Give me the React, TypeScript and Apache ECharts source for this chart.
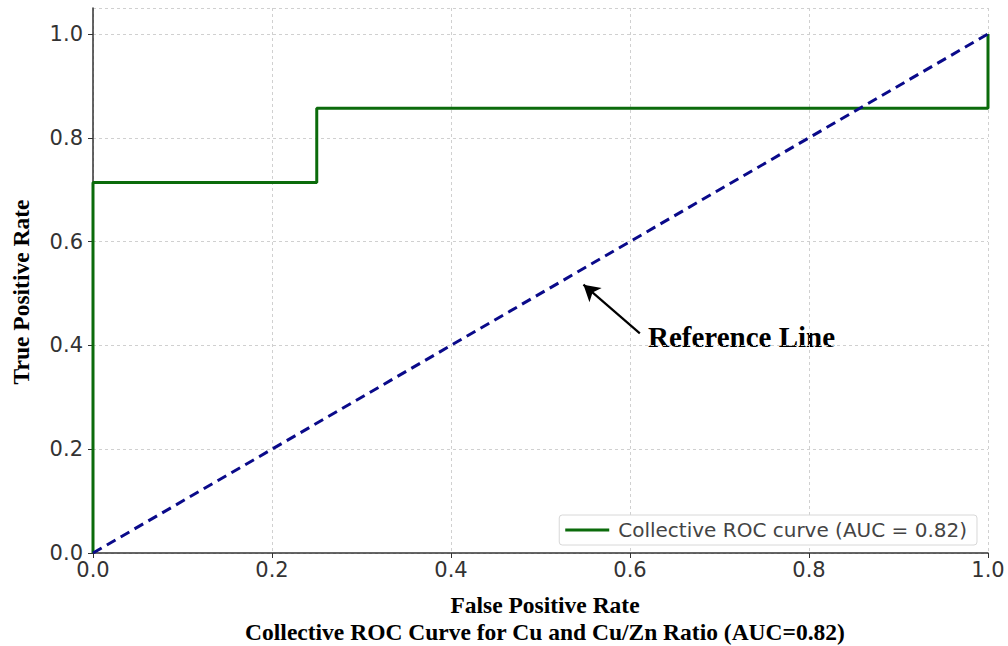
import React, { useEffect, useRef } from "react";
import * as echarts from "echarts";

const rocFpr = [0, 0, 0.25, 0.25, 1, 1];
const rocTpr = [0, 0.714, 0.714, 0.857, 0.857, 1];
const refX = [0, 1];
const refY = [0, 1];
const legendLabel = "Collective ROC curve (AUC = 0.82)";
const xTitle = "False Positive Rate";
const yTitle = "True Positive Rate";
const caption = "Collective ROC Curve for Cu and Cu/Zn Ratio (AUC=0.82)";
const annotationText = "Reference Line";
const arrowFrom = [0.611, 0.423];
const arrowTo = [0.548, 0.517];

export default function App() {
  const ref = useRef<HTMLDivElement>(null);
  useEffect(() => {
    if (!ref.current) return;
    document.body.style.margin = "0";
    const chart = echarts.init(ref.current, null, { renderer: "svg" });
    const tickFont = { fontFamily: "DejaVu Sans", fontSize: 21, color: "#333" };
    chart.setOption({
      animation: false,
      backgroundColor: "#fff",
      grid: { left: 93, right: 20, top: 8, bottom: 93, containLabel: false },
      xAxis: {
        type: "value",
        min: 0,
        max: 1,
        interval: 0.2,
        axisLine: { show: true, lineStyle: { color: "#333", width: 1.5 } },
        axisTick: { show: true, length: 5, lineStyle: { color: "#333" } },
        axisLabel: { ...tickFont, margin: 6, formatter: (v: number) => v.toFixed(1) },
        splitLine: { show: true, lineStyle: { color: "#d0d0d0", type: [3, 3], width: 1 } },
      },
      yAxis: {
        type: "value",
        min: 0,
        max: 1.05,
        interval: 0.2,
        axisLine: { show: true, lineStyle: { color: "#333", width: 1.5 } },
        axisTick: { show: true, length: 5, lineStyle: { color: "#333" } },
        axisLabel: { ...tickFont, margin: 10, showMaxLabel: false, formatter: (v: number) => v.toFixed(1) },
        splitLine: { show: true, lineStyle: { color: "#d0d0d0", type: [3, 3], width: 1 } },
      },
      legend: {
        show: true,
        data: [legendLabel],
        right: 31,
        bottom: 101,
        orient: "horizontal",
        backgroundColor: "#fff",
        borderColor: "#d8d8d8",
        borderWidth: 1,
        borderRadius: 3,
        padding: [5, 10, 5, 6],
        itemWidth: 44,
        itemHeight: 3,
        itemGap: 10,
        icon: "rect",
        textStyle: { fontFamily: "DejaVu Sans", fontSize: 20, color: "#444", padding: [0, 0, 0, 4] },
      },
      series: [
        {
          name: legendLabel,
          type: "line",
          data: rocFpr.map((x, i) => [x, rocTpr[i]]),
          showSymbol: false,
          symbol: "none",
          lineStyle: { color: "#0b6b0b", width: 3 },
          itemStyle: { color: "#0b6b0b" },
          z: 3,
        },
        {
          name: "ref",
          type: "line",
          data: refX.map((x, i) => [x, refY[i]]),
          showSymbol: false,
          symbol: "none",
          lineStyle: { color: "#0a0a8a", width: 3, type: [10, 6] },
          z: 4,
          markLine: {
            silent: true,
            symbol: ["none", "arrow"],
            symbolSize: [14, 16],
            label: { show: false },
            lineStyle: { color: "#000", width: 2.2, type: "solid" },
            data: [[{ coord: arrowFrom }, { coord: arrowTo }]],
          },
        },
      ],
      graphic: [
        {
          type: "text",
          left: 648,
          top: 322,
          style: {
            text: annotationText,
            font: "bold 29px 'Liberation Serif'",
            fill: "#000",
          },
        },
        {
          type: "text",
          x: 545,
          y: 593,
          style: { text: xTitle, font: "bold 23.5px 'Liberation Serif'", fill: "#000", align: "center", verticalAlign: "top" },
        },
        {
          type: "text",
          x: 545,
          y: 620,
          style: { text: caption, font: "bold 23.5px 'Liberation Serif'", fill: "#000", align: "center", verticalAlign: "top" },
        },
        {
          type: "text",
          x: 9,
          y: 292,
          rotation: Math.PI / 2,
          style: {
            text: yTitle,
            font: "bold 23.5px 'Liberation Serif'",
            fill: "#000",
            align: "center",
            verticalAlign: "top",
          },
        },
      ],
    });
    return () => chart.dispose();
  }, []);
  return <div ref={ref} style={{ width: 1008, height: 646 }} />;
}
